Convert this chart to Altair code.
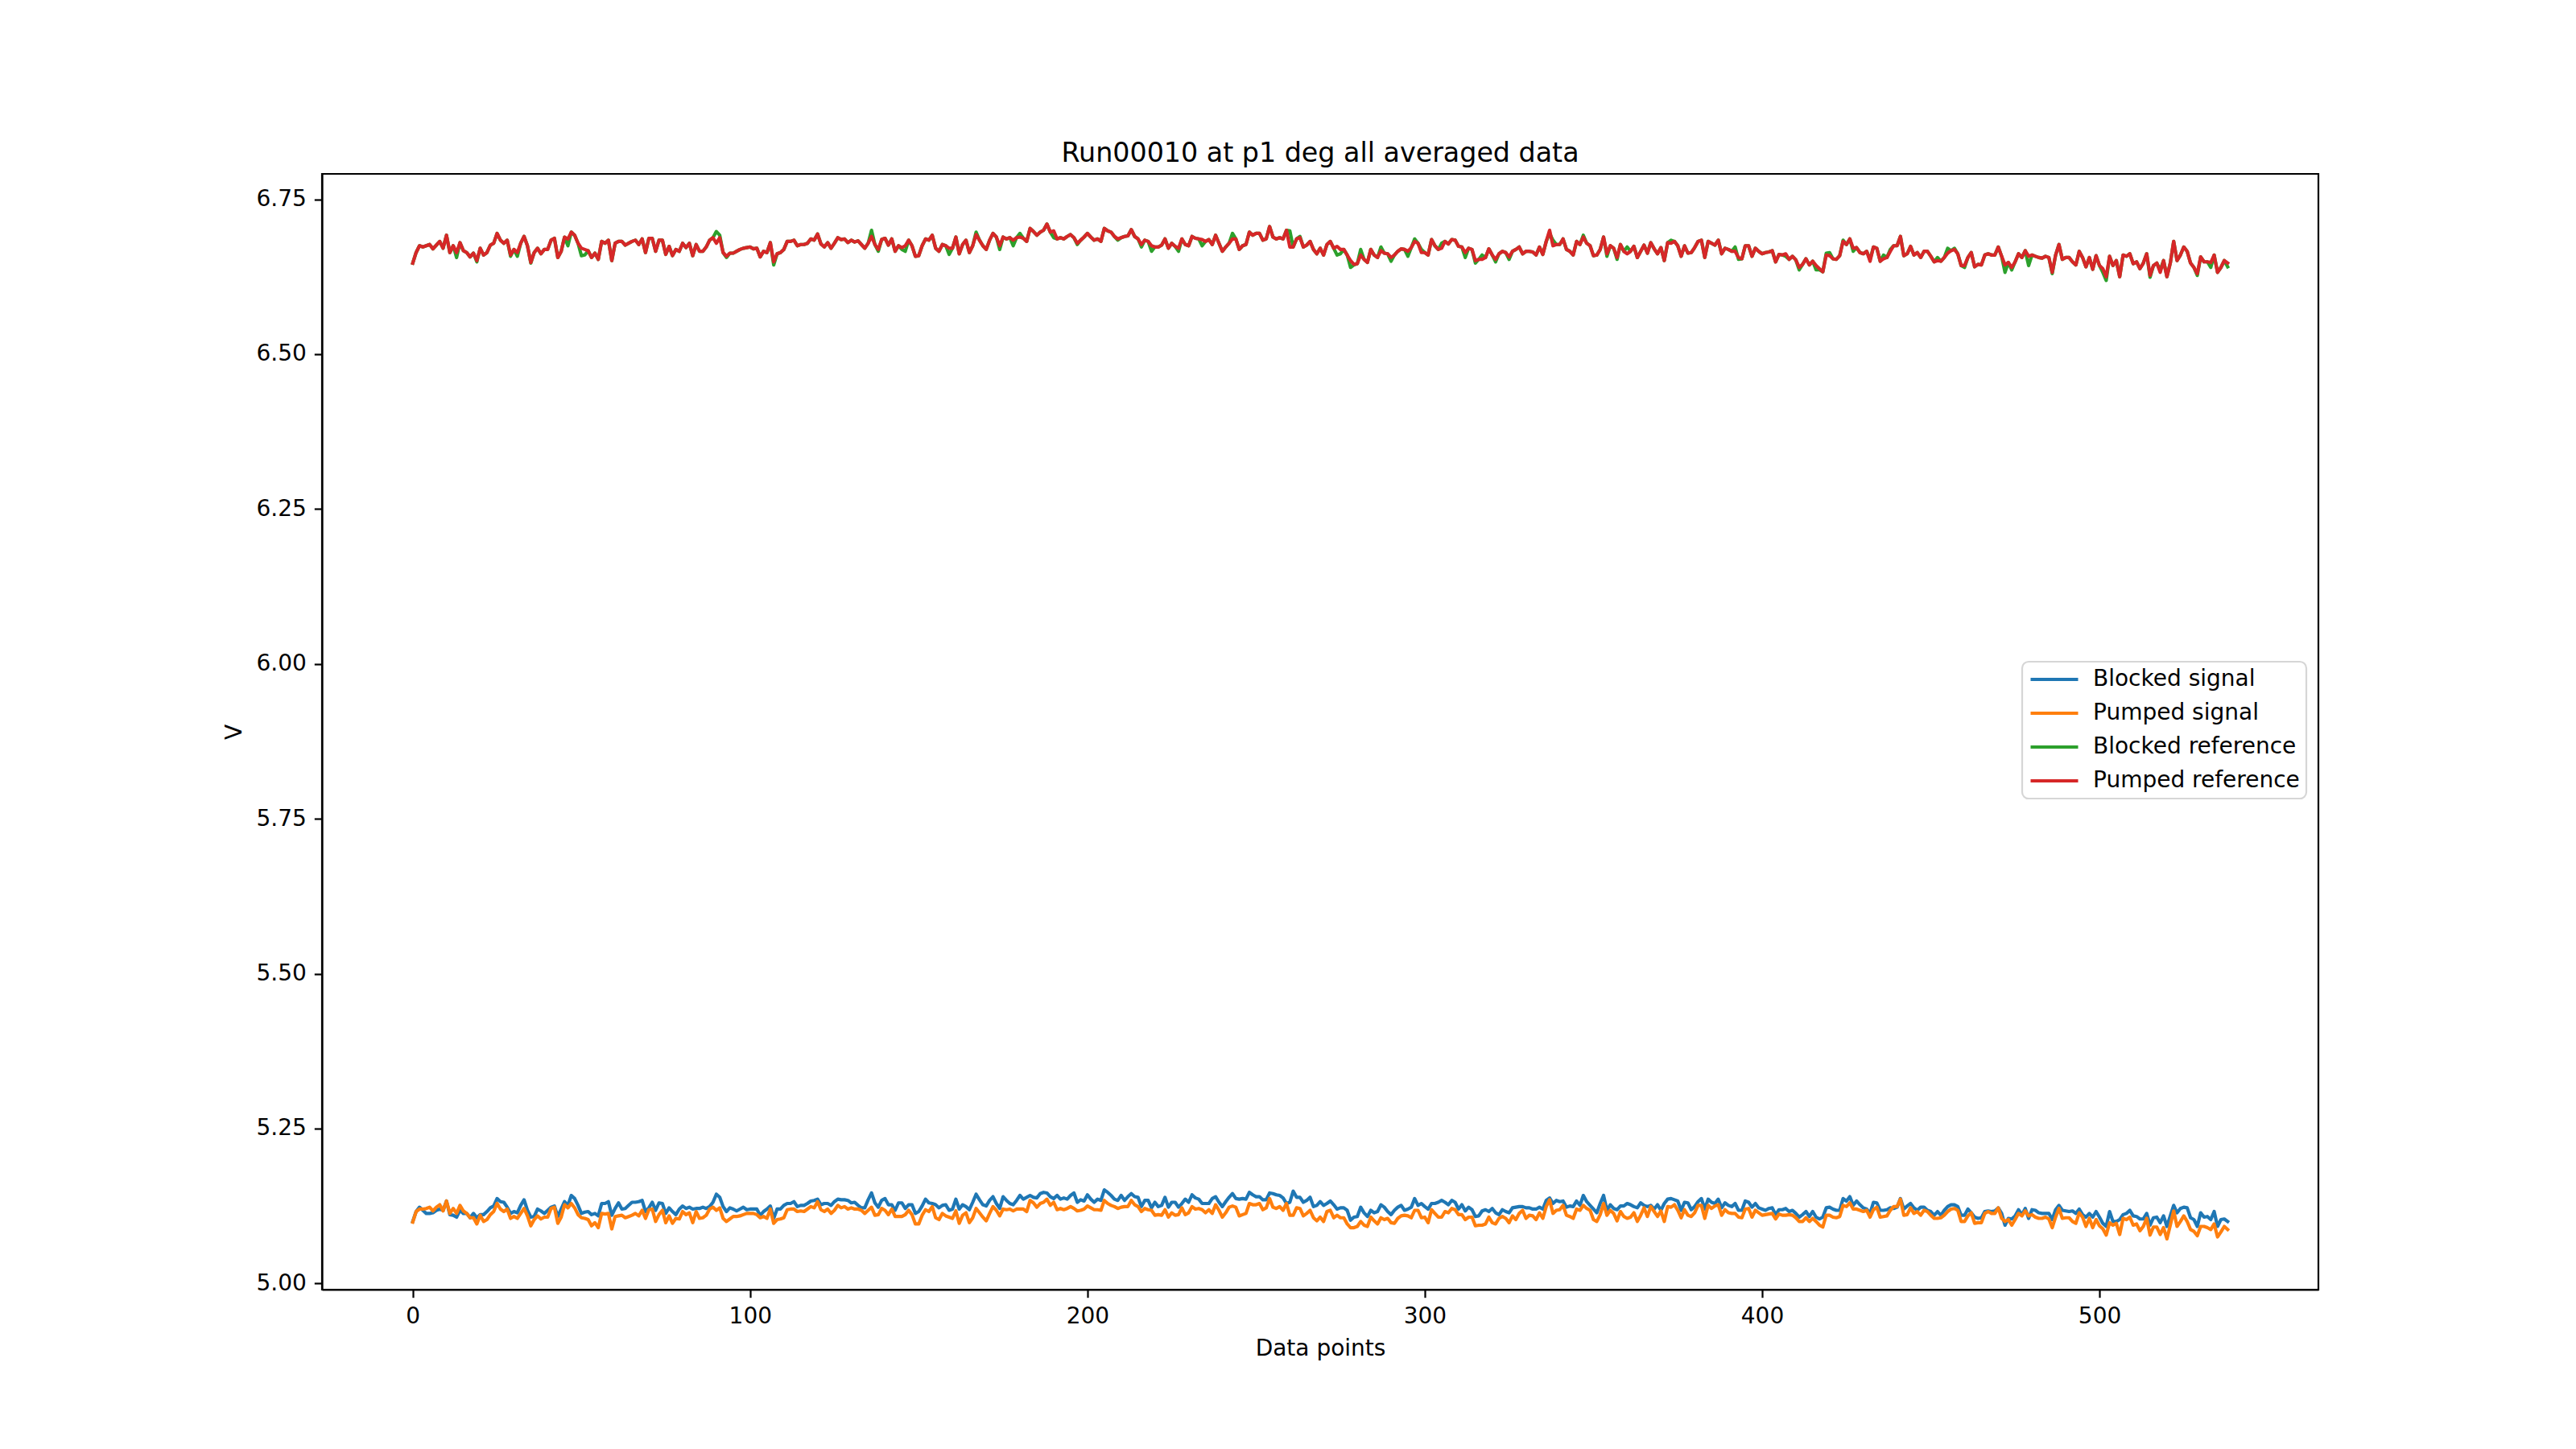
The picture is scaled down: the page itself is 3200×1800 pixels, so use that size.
import altair as alt
import pandas as pd

# ---- data (data point index 0..538, volts) ----
pumped_reference = [
    6.647, 6.664, 6.675, 6.673, 6.675, 6.677, 6.670, 6.676, 6.682, 6.671,
    6.692, 6.664, 6.675, 6.664, 6.680, 6.667, 6.664, 6.657, 6.663, 6.651,
    6.671, 6.660, 6.664, 6.676, 6.679, 6.695, 6.684, 6.679, 6.684, 6.660,
    6.669, 6.664, 6.679, 6.690, 6.675, 6.648, 6.664, 6.671, 6.662, 6.669,
    6.669, 6.684, 6.687, 6.656, 6.666, 6.689, 6.686, 6.697, 6.692, 6.679,
    6.671, 6.669, 6.667, 6.656, 6.663, 6.653, 6.682, 6.679, 6.684, 6.651,
    6.679, 6.682, 6.682, 6.676, 6.679, 6.682, 6.684, 6.677, 6.686, 6.664,
    6.687, 6.687, 6.666, 6.684, 6.684, 6.661, 6.674, 6.659, 6.669, 6.666,
    6.679, 6.672, 6.679, 6.659, 6.677, 6.666, 6.666, 6.673, 6.684, 6.688,
    6.679, 6.688, 6.664, 6.658, 6.663, 6.663, 6.666, 6.669, 6.671, 6.672,
    6.673, 6.670, 6.671, 6.657, 6.666, 6.664, 6.680, 6.649, 6.662, 6.664,
    6.669, 6.682, 6.682, 6.684, 6.675, 6.677, 6.677, 6.679, 6.686, 6.684,
    6.694, 6.678, 6.673, 6.680, 6.671, 6.679, 6.688, 6.685, 6.686, 6.680,
    6.684, 6.681, 6.683, 6.677, 6.671, 6.679, 6.690, 6.677, 6.669, 6.685,
    6.687, 6.676, 6.686, 6.666, 6.675, 6.672, 6.675, 6.684, 6.675, 6.658,
    6.659, 6.675, 6.686, 6.684, 6.692, 6.671, 6.666, 6.677, 6.675, 6.671,
    6.671, 6.689, 6.662, 6.677, 6.684, 6.664, 6.675, 6.693, 6.684, 6.675,
    6.669, 6.684, 6.695, 6.689, 6.675, 6.689, 6.686, 6.688, 6.684, 6.688,
    6.689, 6.687, 6.682, 6.703, 6.698, 6.692, 6.697, 6.700, 6.710, 6.697,
    6.699, 6.686, 6.688, 6.686, 6.690, 6.693, 6.688, 6.679, 6.684, 6.689,
    6.695, 6.689, 6.684, 6.686, 6.682, 6.703, 6.699, 6.697, 6.690, 6.686,
    6.688, 6.690, 6.691, 6.701, 6.690, 6.686, 6.677, 6.684, 6.682, 6.675,
    6.673, 6.673, 6.676, 6.686, 6.671, 6.679, 6.674, 6.671, 6.686, 6.677,
    6.675, 6.690, 6.687, 6.686, 6.685, 6.682, 6.685, 6.677, 6.692, 6.679,
    6.666, 6.673, 6.679, 6.686, 6.686, 6.669, 6.675, 6.677, 6.697, 6.692,
    6.695, 6.695, 6.684, 6.686, 6.706, 6.689, 6.686, 6.688, 6.686, 6.700,
    6.673, 6.673, 6.686, 6.688, 6.673, 6.676, 6.682, 6.669, 6.662, 6.671,
    6.660, 6.677, 6.682, 6.671, 6.674, 6.669, 6.669, 6.660, 6.651, 6.645,
    6.646, 6.660, 6.653, 6.648, 6.669, 6.660, 6.656, 6.667, 6.663, 6.662,
    6.656, 6.660, 6.666, 6.670, 6.669, 6.666, 6.672, 6.682, 6.679, 6.664,
    6.664, 6.660, 6.685, 6.675, 6.669, 6.671, 6.682, 6.678, 6.685, 6.684,
    6.674, 6.673, 6.664, 6.671, 6.669, 6.651, 6.653, 6.653, 6.656, 6.670,
    6.660, 6.653, 6.662, 6.666, 6.664, 6.657, 6.666, 6.669, 6.673, 6.662,
    6.666, 6.666, 6.665, 6.660, 6.673, 6.661, 6.682, 6.700, 6.675, 6.677,
    6.677, 6.686, 6.669, 6.666, 6.660, 6.682, 6.677, 6.689, 6.679, 6.675,
    6.659, 6.660, 6.669, 6.689, 6.662, 6.675, 6.671, 6.656, 6.677, 6.666,
    6.662, 6.666, 6.674, 6.656, 6.666, 6.676, 6.663, 6.680, 6.670, 6.662,
    6.672, 6.651, 6.680, 6.679, 6.682, 6.675, 6.658, 6.675, 6.663, 6.664,
    6.672, 6.682, 6.684, 6.656, 6.682, 6.679, 6.676, 6.684, 6.662, 6.671,
    6.669, 6.666, 6.666, 6.656, 6.654, 6.675, 6.675, 6.658, 6.671, 6.666,
    6.662, 6.664, 6.665, 6.667, 6.649, 6.661, 6.660, 6.662, 6.653, 6.658,
    6.652, 6.640, 6.645, 6.654, 6.644, 6.650, 6.643, 6.638, 6.633, 6.660,
    6.659, 6.654, 6.653, 6.659, 6.682, 6.677, 6.686, 6.671, 6.672, 6.664,
    6.662, 6.666, 6.650, 6.673, 6.671, 6.650, 6.654, 6.656, 6.666, 6.675,
    6.675, 6.690, 6.659, 6.662, 6.674, 6.660, 6.664, 6.656, 6.666, 6.666,
    6.658, 6.649, 6.651, 6.650, 6.656, 6.663, 6.667, 6.669, 6.662, 6.643,
    6.643, 6.656, 6.664, 6.641, 6.645, 6.644, 6.660, 6.662, 6.660, 6.660,
    6.673, 6.658, 6.644, 6.648, 6.640, 6.649, 6.662, 6.656, 6.667, 6.658,
    6.660, 6.658, 6.656, 6.655, 6.658, 6.656, 6.632, 6.660, 6.677, 6.653,
    6.656, 6.656, 6.649, 6.644, 6.666, 6.656, 6.641, 6.656, 6.637, 6.659,
    6.643, 6.638, 6.625, 6.658, 6.643, 6.651, 6.625, 6.660, 6.658, 6.662,
    6.646, 6.649, 6.638, 6.647, 6.662, 6.627, 6.643, 6.647, 6.632, 6.651,
    6.625, 6.647, 6.682, 6.651, 6.660, 6.673, 6.666, 6.647, 6.640, 6.630,
    6.657, 6.649, 6.649, 6.648, 6.660, 6.632, 6.640, 6.651, 6.647,
]

blocked_reference = [
    6.647, 6.664, 6.675, 6.673, 6.675, 6.677, 6.670, 6.676, 6.682, 6.671,
    6.692, 6.664, 6.675, 6.656, 6.680, 6.667, 6.664, 6.657, 6.663, 6.649,
    6.671, 6.660, 6.664, 6.676, 6.679, 6.695, 6.684, 6.679, 6.684, 6.658,
    6.669, 6.658, 6.679, 6.690, 6.675, 6.647, 6.664, 6.671, 6.662, 6.669,
    6.669, 6.684, 6.687, 6.656, 6.666, 6.689, 6.675, 6.697, 6.692, 6.679,
    6.659, 6.660, 6.667, 6.656, 6.663, 6.653, 6.682, 6.679, 6.684, 6.651,
    6.679, 6.682, 6.682, 6.676, 6.679, 6.682, 6.684, 6.677, 6.686, 6.664,
    6.687, 6.687, 6.666, 6.684, 6.684, 6.661, 6.674, 6.659, 6.669, 6.666,
    6.679, 6.672, 6.679, 6.659, 6.677, 6.666, 6.666, 6.673, 6.684, 6.688,
    6.698, 6.692, 6.664, 6.656, 6.663, 6.663, 6.666, 6.669, 6.671, 6.672,
    6.673, 6.670, 6.671, 6.657, 6.666, 6.664, 6.680, 6.644, 6.662, 6.664,
    6.669, 6.682, 6.682, 6.684, 6.675, 6.677, 6.677, 6.679, 6.686, 6.684,
    6.694, 6.678, 6.673, 6.680, 6.671, 6.679, 6.688, 6.685, 6.686, 6.680,
    6.684, 6.681, 6.683, 6.677, 6.671, 6.679, 6.700, 6.677, 6.666, 6.685,
    6.687, 6.676, 6.686, 6.666, 6.675, 6.669, 6.666, 6.684, 6.675, 6.658,
    6.659, 6.675, 6.686, 6.684, 6.692, 6.671, 6.666, 6.677, 6.675, 6.661,
    6.671, 6.689, 6.662, 6.677, 6.684, 6.664, 6.675, 6.697, 6.684, 6.675,
    6.669, 6.684, 6.695, 6.689, 6.669, 6.689, 6.686, 6.688, 6.675, 6.688,
    6.695, 6.687, 6.682, 6.703, 6.698, 6.692, 6.697, 6.700, 6.710, 6.697,
    6.688, 6.686, 6.688, 6.686, 6.690, 6.693, 6.688, 6.677, 6.684, 6.689,
    6.695, 6.689, 6.684, 6.686, 6.682, 6.703, 6.699, 6.697, 6.690, 6.684,
    6.688, 6.690, 6.691, 6.701, 6.690, 6.686, 6.673, 6.684, 6.682, 6.666,
    6.673, 6.673, 6.676, 6.686, 6.671, 6.679, 6.674, 6.666, 6.686, 6.677,
    6.675, 6.690, 6.687, 6.686, 6.675, 6.682, 6.685, 6.677, 6.692, 6.679,
    6.666, 6.673, 6.679, 6.695, 6.686, 6.669, 6.675, 6.677, 6.697, 6.692,
    6.695, 6.695, 6.684, 6.686, 6.706, 6.689, 6.686, 6.688, 6.686, 6.700,
    6.699, 6.673, 6.686, 6.690, 6.673, 6.676, 6.682, 6.669, 6.662, 6.671,
    6.660, 6.677, 6.682, 6.671, 6.660, 6.662, 6.669, 6.660, 6.640, 6.644,
    6.646, 6.669, 6.653, 6.648, 6.669, 6.660, 6.656, 6.673, 6.663, 6.662,
    6.650, 6.660, 6.666, 6.670, 6.669, 6.658, 6.672, 6.686, 6.679, 6.669,
    6.664, 6.660, 6.685, 6.675, 6.669, 6.679, 6.682, 6.678, 6.685, 6.684,
    6.674, 6.673, 6.656, 6.671, 6.669, 6.647, 6.653, 6.660, 6.656, 6.670,
    6.660, 6.649, 6.662, 6.666, 6.664, 6.653, 6.666, 6.669, 6.673, 6.662,
    6.666, 6.666, 6.665, 6.660, 6.673, 6.661, 6.682, 6.695, 6.684, 6.677,
    6.677, 6.686, 6.669, 6.666, 6.660, 6.682, 6.677, 6.692, 6.679, 6.675,
    6.659, 6.660, 6.669, 6.689, 6.658, 6.675, 6.671, 6.653, 6.677, 6.666,
    6.673, 6.666, 6.674, 6.656, 6.666, 6.676, 6.663, 6.680, 6.670, 6.662,
    6.672, 6.651, 6.680, 6.684, 6.682, 6.675, 6.658, 6.675, 6.663, 6.664,
    6.672, 6.682, 6.684, 6.656, 6.682, 6.679, 6.676, 6.684, 6.662, 6.671,
    6.669, 6.666, 6.673, 6.653, 6.654, 6.675, 6.675, 6.658, 6.671, 6.666,
    6.662, 6.664, 6.665, 6.667, 6.649, 6.661, 6.660, 6.658, 6.653, 6.658,
    6.652, 6.636, 6.645, 6.654, 6.644, 6.650, 6.636, 6.636, 6.633, 6.663,
    6.664, 6.654, 6.653, 6.659, 6.684, 6.677, 6.686, 6.666, 6.672, 6.664,
    6.662, 6.666, 6.653, 6.673, 6.671, 6.650, 6.660, 6.656, 6.669, 6.675,
    6.675, 6.690, 6.659, 6.662, 6.674, 6.660, 6.664, 6.656, 6.666, 6.666,
    6.658, 6.649, 6.656, 6.650, 6.656, 6.671, 6.667, 6.671, 6.662, 6.643,
    6.640, 6.656, 6.664, 6.641, 6.645, 6.644, 6.660, 6.662, 6.660, 6.660,
    6.673, 6.658, 6.632, 6.648, 6.636, 6.649, 6.662, 6.656, 6.667, 6.643,
    6.660, 6.658, 6.656, 6.655, 6.658, 6.656, 6.630, 6.660, 6.677, 6.653,
    6.656, 6.656, 6.649, 6.644, 6.666, 6.656, 6.641, 6.656, 6.637, 6.659,
    6.643, 6.632, 6.619, 6.658, 6.643, 6.651, 6.625, 6.660, 6.658, 6.662,
    6.646, 6.649, 6.638, 6.647, 6.662, 6.624, 6.643, 6.647, 6.636, 6.651,
    6.625, 6.647, 6.682, 6.651, 6.660, 6.673, 6.666, 6.647, 6.640, 6.627,
    6.657, 6.649, 6.649, 6.640, 6.660, 6.632, 6.640, 6.651, 6.641,
]

blocked_signal = [
    5.100, 5.116, 5.123, 5.118, 5.113, 5.113, 5.114, 5.118, 5.120, 5.118,
    5.133, 5.111, 5.110, 5.107, 5.118, 5.113, 5.113, 5.106, 5.113, 5.106,
    5.111, 5.111, 5.116, 5.122, 5.125, 5.137, 5.132, 5.131, 5.123, 5.113,
    5.116, 5.114, 5.126, 5.135, 5.118, 5.107, 5.108, 5.120, 5.117, 5.113,
    5.118, 5.123, 5.125, 5.108, 5.120, 5.132, 5.126, 5.142, 5.137, 5.126,
    5.113, 5.115, 5.116, 5.111, 5.113, 5.109, 5.129, 5.129, 5.132, 5.110,
    5.121, 5.130, 5.120, 5.121, 5.126, 5.131, 5.131, 5.132, 5.134, 5.116,
    5.122, 5.131, 5.118, 5.130, 5.129, 5.113, 5.122, 5.116, 5.111, 5.120,
    5.125, 5.121, 5.123, 5.120, 5.121, 5.121, 5.123, 5.121, 5.124, 5.131,
    5.144, 5.139, 5.124, 5.116, 5.122, 5.120, 5.117, 5.120, 5.123, 5.119,
    5.120, 5.120, 5.120, 5.110, 5.116, 5.120, 5.125, 5.105, 5.120, 5.120,
    5.126, 5.129, 5.129, 5.132, 5.124, 5.126, 5.126, 5.129, 5.133, 5.134,
    5.136, 5.127, 5.129, 5.129, 5.126, 5.132, 5.136, 5.135, 5.135, 5.134,
    5.130, 5.131, 5.126, 5.122, 5.122, 5.135, 5.146, 5.130, 5.123, 5.134,
    5.137, 5.127, 5.127, 5.118, 5.130, 5.130, 5.121, 5.127, 5.127, 5.113,
    5.116, 5.125, 5.136, 5.130, 5.129, 5.127, 5.122, 5.126, 5.127, 5.118,
    5.120, 5.136, 5.120, 5.127, 5.124, 5.119, 5.131, 5.144, 5.135, 5.127,
    5.125, 5.134, 5.140, 5.129, 5.121, 5.140, 5.134, 5.129, 5.127, 5.134,
    5.142, 5.136, 5.139, 5.142, 5.139, 5.138, 5.145, 5.147, 5.146, 5.140,
    5.137, 5.142, 5.136, 5.138, 5.136, 5.142, 5.146, 5.131, 5.135, 5.133,
    5.143, 5.136, 5.131, 5.136, 5.134, 5.151, 5.147, 5.142, 5.136, 5.134,
    5.142, 5.134, 5.140, 5.145, 5.140, 5.139, 5.124, 5.134, 5.134, 5.122,
    5.131, 5.124, 5.126, 5.139, 5.123, 5.131, 5.131, 5.123, 5.129, 5.136,
    5.131, 5.143, 5.138, 5.136, 5.129, 5.129, 5.129, 5.137, 5.140, 5.131,
    5.124, 5.132, 5.139, 5.145, 5.137, 5.136, 5.137, 5.136, 5.147, 5.143,
    5.140, 5.140, 5.135, 5.135, 5.146, 5.145, 5.143, 5.142, 5.138, 5.129,
    5.131, 5.149, 5.139, 5.139, 5.131, 5.134, 5.139, 5.124, 5.126, 5.132,
    5.126, 5.129, 5.133, 5.127, 5.120, 5.122, 5.122, 5.118, 5.102, 5.107,
    5.108, 5.123, 5.114, 5.108, 5.118, 5.114, 5.116, 5.127, 5.123, 5.116,
    5.111, 5.118, 5.123, 5.126, 5.118, 5.120, 5.123, 5.137, 5.126, 5.129,
    5.124, 5.120, 5.129, 5.129, 5.131, 5.134, 5.131, 5.127, 5.134, 5.131,
    5.120, 5.127, 5.117, 5.123, 5.119, 5.108, 5.109, 5.117, 5.119, 5.116,
    5.121, 5.114, 5.111, 5.119, 5.116, 5.114, 5.122, 5.123, 5.124, 5.124,
    5.122, 5.122, 5.120, 5.120, 5.123, 5.120, 5.134, 5.138, 5.129, 5.134,
    5.132, 5.133, 5.123, 5.125, 5.124, 5.133, 5.126, 5.142, 5.132, 5.126,
    5.120, 5.114, 5.129, 5.142, 5.118, 5.127, 5.121, 5.119, 5.125, 5.125,
    5.129, 5.127, 5.124, 5.122, 5.130, 5.126, 5.124, 5.126, 5.120, 5.127,
    5.118, 5.129, 5.136, 5.137, 5.135, 5.133, 5.118, 5.131, 5.130, 5.119,
    5.124, 5.132, 5.137, 5.120, 5.136, 5.131, 5.129, 5.136, 5.122, 5.130,
    5.126, 5.124, 5.129, 5.118, 5.118, 5.133, 5.131, 5.123, 5.129, 5.122,
    5.120, 5.118, 5.121, 5.122, 5.111, 5.119, 5.119, 5.121, 5.116, 5.118,
    5.113, 5.107, 5.111, 5.116, 5.108, 5.116, 5.107, 5.104, 5.107, 5.122,
    5.123, 5.120, 5.118, 5.118, 5.137, 5.133, 5.140, 5.126, 5.133, 5.127,
    5.122, 5.120, 5.113, 5.131, 5.130, 5.118, 5.118, 5.119, 5.122, 5.121,
    5.123, 5.137, 5.120, 5.125, 5.129, 5.122, 5.118, 5.123, 5.123, 5.118,
    5.116, 5.110, 5.116, 5.110, 5.118, 5.124, 5.127, 5.127, 5.124, 5.110,
    5.110, 5.120, 5.114, 5.107, 5.105, 5.106, 5.116, 5.117, 5.116, 5.117,
    5.122, 5.113, 5.094, 5.105, 5.104, 5.109, 5.119, 5.111, 5.121, 5.105,
    5.119, 5.118, 5.114, 5.113, 5.113, 5.113, 5.103, 5.119, 5.126, 5.118,
    5.117, 5.116, 5.117, 5.113, 5.120, 5.111, 5.107, 5.113, 5.107, 5.116,
    5.107, 5.097, 5.092, 5.116, 5.100, 5.100, 5.103, 5.111, 5.113, 5.118,
    5.109, 5.108, 5.104, 5.104, 5.113, 5.094, 5.106, 5.107, 5.098, 5.109,
    5.092, 5.109, 5.126, 5.114, 5.121, 5.123, 5.122, 5.106, 5.103, 5.092,
    5.114, 5.107, 5.108, 5.103, 5.116, 5.092, 5.103, 5.104, 5.100,
]

pumped_signal = [
    5.099, 5.116, 5.120, 5.120, 5.121, 5.123, 5.117, 5.123, 5.127, 5.117,
    5.133, 5.113, 5.121, 5.113, 5.126, 5.117, 5.113, 5.106, 5.106, 5.096,
    5.110, 5.100, 5.103, 5.111, 5.116, 5.129, 5.120, 5.116, 5.120, 5.105,
    5.108, 5.105, 5.113, 5.121, 5.109, 5.093, 5.103, 5.109, 5.104, 5.107,
    5.107, 5.121, 5.123, 5.097, 5.107, 5.127, 5.122, 5.129, 5.122, 5.111,
    5.106, 5.105, 5.103, 5.093, 5.098, 5.090, 5.113, 5.112, 5.113, 5.088,
    5.108, 5.109, 5.110, 5.106, 5.108, 5.110, 5.113, 5.109, 5.118, 5.105,
    5.119, 5.120, 5.100, 5.111, 5.118, 5.098, 5.109, 5.097, 5.105, 5.104,
    5.116, 5.111, 5.114, 5.098, 5.116, 5.105, 5.106, 5.110, 5.120, 5.123,
    5.118, 5.122, 5.105, 5.100, 5.104, 5.108, 5.108, 5.109, 5.111, 5.113,
    5.113, 5.113, 5.111, 5.106, 5.108, 5.105, 5.120, 5.097, 5.103, 5.104,
    5.106, 5.119, 5.120, 5.120, 5.116, 5.117, 5.116, 5.120, 5.124, 5.122,
    5.132, 5.119, 5.116, 5.120, 5.113, 5.118, 5.126, 5.122, 5.124, 5.120,
    5.122, 5.120, 5.120, 5.118, 5.113, 5.118, 5.123, 5.110, 5.111, 5.121,
    5.118, 5.111, 5.120, 5.108, 5.108, 5.108, 5.111, 5.118, 5.111, 5.096,
    5.096, 5.110, 5.119, 5.116, 5.124, 5.106, 5.103, 5.113, 5.109, 5.107,
    5.105, 5.117, 5.097, 5.110, 5.114, 5.098, 5.106, 5.121, 5.114, 5.107,
    5.101, 5.113, 5.124, 5.118, 5.109, 5.120, 5.119, 5.120, 5.117, 5.120,
    5.120, 5.120, 5.116, 5.134, 5.130, 5.123, 5.129, 5.131, 5.136, 5.126,
    5.131, 5.119, 5.121, 5.119, 5.121, 5.124, 5.121, 5.117, 5.118, 5.120,
    5.125, 5.122, 5.119, 5.119, 5.118, 5.134, 5.129, 5.126, 5.124, 5.121,
    5.123, 5.124, 5.124, 5.134, 5.127, 5.124, 5.116, 5.121, 5.119, 5.118,
    5.110, 5.111, 5.110, 5.119, 5.107, 5.114, 5.110, 5.111, 5.122, 5.111,
    5.114, 5.124, 5.120, 5.121, 5.119, 5.114, 5.119, 5.113, 5.127, 5.118,
    5.107, 5.114, 5.123, 5.125, 5.123, 5.109, 5.111, 5.113, 5.129, 5.127,
    5.127, 5.129, 5.119, 5.122, 5.137, 5.123, 5.121, 5.124, 5.118, 5.129,
    5.110, 5.110, 5.122, 5.121, 5.109, 5.113, 5.118, 5.106, 5.101, 5.107,
    5.100, 5.116, 5.118, 5.106, 5.110, 5.106, 5.106, 5.096, 5.090, 5.090,
    5.092, 5.100, 5.094, 5.092, 5.107, 5.101, 5.096, 5.106, 5.103, 5.105,
    5.098, 5.097, 5.105, 5.109, 5.110, 5.109, 5.106, 5.118, 5.118, 5.106,
    5.107, 5.098, 5.119, 5.113, 5.107, 5.107, 5.116, 5.114, 5.121, 5.119,
    5.111, 5.111, 5.103, 5.107, 5.107, 5.093, 5.094, 5.094, 5.096, 5.107,
    5.098, 5.096, 5.105, 5.108, 5.105, 5.098, 5.109, 5.103, 5.113, 5.118,
    5.105, 5.110, 5.109, 5.103, 5.114, 5.105, 5.124, 5.135, 5.113, 5.118,
    5.119, 5.126, 5.110, 5.108, 5.105, 5.120, 5.118, 5.126, 5.121, 5.118,
    5.103, 5.100, 5.111, 5.129, 5.110, 5.118, 5.113, 5.101, 5.116, 5.108,
    5.105, 5.107, 5.114, 5.100, 5.110, 5.122, 5.108, 5.124, 5.116, 5.108,
    5.117, 5.100, 5.124, 5.123, 5.127, 5.118, 5.106, 5.119, 5.110, 5.108,
    5.114, 5.126, 5.126, 5.105, 5.126, 5.121, 5.125, 5.127, 5.110, 5.119,
    5.114, 5.113, 5.113, 5.107, 5.106, 5.120, 5.121, 5.107, 5.118, 5.114,
    5.110, 5.111, 5.112, 5.113, 5.104, 5.112, 5.110, 5.110, 5.111, 5.110,
    5.106, 5.100, 5.100, 5.106, 5.100, 5.105, 5.100, 5.094, 5.091, 5.110,
    5.110, 5.107, 5.106, 5.108, 5.126, 5.124, 5.130, 5.120, 5.120, 5.118,
    5.116, 5.118, 5.107, 5.119, 5.123, 5.107, 5.108, 5.109, 5.118, 5.124,
    5.124, 5.136, 5.110, 5.111, 5.122, 5.113, 5.116, 5.110, 5.118, 5.116,
    5.110, 5.105, 5.105, 5.106, 5.110, 5.116, 5.120, 5.121, 5.118, 5.100,
    5.100, 5.109, 5.114, 5.097, 5.098, 5.098, 5.113, 5.116, 5.113, 5.113,
    5.122, 5.105, 5.100, 5.103, 5.094, 5.103, 5.113, 5.109, 5.117, 5.109,
    5.111, 5.107, 5.105, 5.105, 5.107, 5.104, 5.090, 5.107, 5.121, 5.105,
    5.106, 5.106, 5.100, 5.097, 5.114, 5.107, 5.092, 5.105, 5.090, 5.103,
    5.093, 5.088, 5.078, 5.098, 5.094, 5.097, 5.079, 5.105, 5.103, 5.107,
    5.094, 5.096, 5.085, 5.092, 5.105, 5.078, 5.091, 5.091, 5.079, 5.090,
    5.072, 5.094, 5.117, 5.092, 5.100, 5.109, 5.100, 5.087, 5.084, 5.077,
    5.092, 5.092, 5.090, 5.087, 5.096, 5.075, 5.083, 5.092, 5.087,
]

series_names = ["Blocked signal", "Pumped signal", "Blocked reference", "Pumped reference"]
series_colors = ["#1f77b4", "#ff7f0e", "#2ca02c", "#d62728"]
series_values = [blocked_signal, pumped_signal, blocked_reference, pumped_reference]

x_ticks = [0, 100, 200, 300, 400, 500]
y_ticks = [5.00, 5.25, 5.50, 5.75, 6.00, 6.25, 6.50, 6.75]

title_text = "Run00010 at p1 deg all averaged data"
x_title = "Data points"
y_title = "V"

rows = []
for name, vals in zip(series_names, series_values):
    for i, v in enumerate(vals):
        rows.append({"point": i, "V": v, "series": name})
df = pd.DataFrame(rows)

FONT = "DejaVu Sans"

color_scale = alt.Scale(domain=series_names, range=series_colors)
legend = alt.Legend(
    title=None,
    orient="none",
    legendX=2112,
    legendY=606,
    symbolType="stroke",
    symbolSize=3481,
    symbolStrokeWidth=4.2,
    labelFont=FONT,
    labelFontSize=28,
    labelColor="black",
    labelOffset=16,
    labelLimit=0,
    padding=8,
    rowPadding=14,
    clipHeight=28,
    strokeColor="#d6d6d6",
    fillColor="white",
    cornerRadius=8,
)

x_enc = alt.X(
    "point:Q",
    scale=alt.Scale(domain=[-26.9, 564.9], nice=False, zero=False),
    axis=alt.Axis(values=x_ticks, title=x_title, format="d"),
)
y_enc = alt.Y(
    "V:Q",
    scale=alt.Scale(domain=[4.990, 6.791], nice=False, zero=False),
    axis=alt.Axis(values=y_ticks, title=y_title, format=".2f"),
)

layers = []
for name in series_names:
    layers.append(
        alt.Chart(df)
        .transform_filter(alt.datum.series == name)
        .mark_line(strokeWidth=4.17, strokeJoin="round", strokeCap="square")
        .encode(
            x=x_enc,
            y=y_enc,
            color=alt.Color("series:N", scale=color_scale, legend=legend),
        )
    )

chart = (
    alt.layer(*layers)
    .properties(
        width=2480,
        height=1386,
        title=alt.TitleParams(
            title_text,
            font=FONT,
            fontSize=33.3,
            fontWeight="normal",
            color="black",
            anchor="middle",
            offset=8,
        ),
        autosize=alt.AutoSizeParams(type="none"),
        padding={"left": 392, "top": 208, "right": 312, "bottom": 190},
    )
    .configure_view(stroke="black", strokeWidth=2.2)
    .configure_axis(
        grid=False,
        domainColor="black",
        domainWidth=2.2,
        tickColor="black",
        tickWidth=2.2,
        tickSize=9.7,
        labelFont=FONT,
        labelFontSize=28,
        labelColor="black",
        labelPadding=10,
        titleFont=FONT,
        titleFontSize=28,
        titleFontWeight="normal",
        titleColor="black",
        titlePadding=12,
    )
    .configure_legend(strokeWidth=2.2)
)

chart.save("out.html", embed_options={"renderer": "svg", "actions": False})
